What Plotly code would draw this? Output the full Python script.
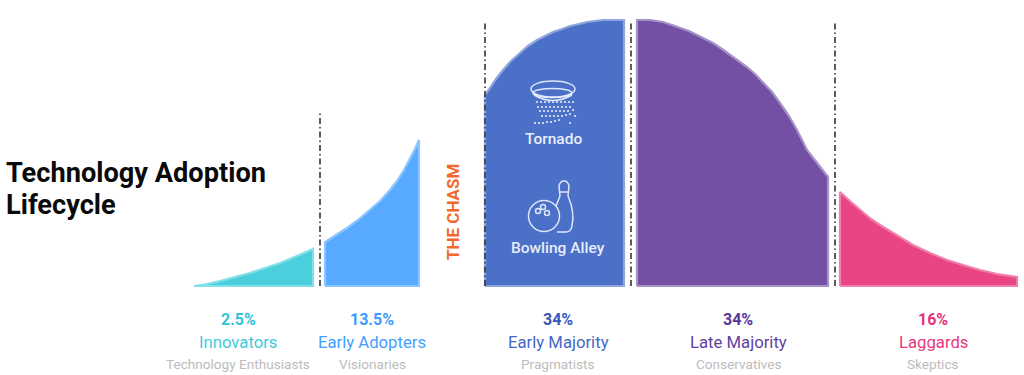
import plotly.graph_objects as go

# Segment names and values
names = ["Innovators", "Early Adopters", "Early Majority", "Late Majority", "Laggards"]
shares = ["2.5%", "13.5%", "34%", "34%", "16%"]
subtitles = ["Technology Enthusiasts", "Visionaries", "Pragmatists", "Conservatives", "Skeptics"]
label_x = [238, 372, 558, 738, 933]

# Curve outlines: x on a 0-1024 scale, height above the baseline
innovators_x = [194, 207, 220, 235, 250, 265, 280, 297, 313]
innovators_h = [0, 2, 5, 9, 13, 18, 23, 30, 37]
adopters_x = [325, 336, 347, 358, 370, 380, 390, 397, 404, 410, 415, 419]
adopters_h = [44, 51, 58, 66, 76, 85, 96, 105, 116, 127, 137, 146]
early_majority_x = [485, 490, 496, 503, 511, 520, 528, 537, 545, 553, 562, 570, 579, 587, 595, 603, 613, 624]
early_majority_h = [191, 198, 207, 216, 225, 233, 240, 246, 250, 254, 257, 260, 262, 264, 265, 266, 266, 266]
late_majority_x = [637, 650, 663, 672, 680, 689, 697, 705, 713, 722, 730, 738, 747, 755, 763, 772, 780, 789, 797, 802, 807, 814, 821, 828]
late_majority_h = [266, 266, 264, 261, 258, 255, 251, 247, 243, 237, 231, 225, 219, 212, 204, 194, 183, 170, 156, 146, 136, 127, 118, 109]
laggards_x = [840, 851, 863, 871, 880, 897, 913, 930, 947, 963, 980, 997, 1017]
laggards_h = [94, 84, 74, 67, 61, 51, 41, 33, 26, 21, 16, 12, 9]

fills = ["#4bcfdd", "#57aaff", "#4b70c8", "#7350a3", "#e94584"]
edges = ["#84e0e8", "#8cc6ff", "#8ea6dd", "#a592c8", "#f080ab"]
share_colors = ["#2fc5d8", "#3d9bff", "#3557bb", "#57389a", "#e5347b"]
name_colors = ["#3fcbdc", "#3fa0ff", "#4468c4", "#5f3f9f", "#e8387e"]

# Dash-dot dividers: x and top height
divider_x = [320, 485, 631, 835]
divider_top = [173, 264, 264, 264]

curves = [
    (innovators_x, innovators_h),
    (adopters_x, adopters_h),
    (early_majority_x, early_majority_h),
    (late_majority_x, late_majority_h),
    (laggards_x, laggards_h),
]

BASE = 286  # pixel row of the baseline, used to set the y-axis range
fig = go.Figure()

for (xs, hs), fill, edge in zip(curves, fills, edges):
    fig.add_trace(go.Scatter(
        x=[xs[0]] + xs + [xs[-1], xs[0]],
        y=[0] + hs + [0, 0],
        mode="lines", fill="toself", fillcolor=fill,
        line=dict(color=edge, width=2.2),
        hoverinfo="skip", showlegend=False,
    ))

for dx, top in zip(divider_x, divider_top):
    fig.add_trace(go.Scatter(
        x=[dx, dx], y=[0, top], mode="lines",
        line=dict(color="#333333", width=1.6, dash="6px,3px,1.5px,3px"),
        hoverinfo="skip", showlegend=False,
    ))

# Tornado icon dots
tornado_x = [537, 541, 545, 549, 553, 557, 561, 565, 569, 573,
             538, 542, 546, 550, 554, 558, 562, 566, 570,
             540, 544, 548, 552, 556, 560, 564, 568, 573,
             542, 546, 550, 554, 558, 562, 566, 570, 575,
             535, 539, 543, 547, 551, 555, 559, 570]
tornado_h = [184, 184, 184, 184, 184, 184, 184, 184, 184, 184,
             179, 179, 179, 179, 179, 179, 179, 179, 179,
             175, 175, 175, 175, 175, 175, 175, 175, 176,
             170, 170, 170, 170, 170, 170, 171, 172, 170,
             163, 163, 163, 164, 164, 165, 166, 163]
fig.add_trace(go.Scatter(
    x=tornado_x, y=tornado_h, mode="markers",
    marker=dict(color="rgba(255,255,255,0.85)", size=2.2),
    hoverinfo="skip", showlegend=False,
))

icon = dict(color="rgba(235,240,255,0.92)", width=1.5)
def ring(cx, cy, rx, ry):
    fig.add_shape(type="circle", x0=cx - rx, x1=cx + rx,
                  y0=BASE - cy - ry, y1=BASE - cy + ry, line=icon)

ring(553, 89, 22, 8)
ring(552.5, 93, 19.5, 4.5)
ring(544, 216, 15.5, 15.5)
ring(538, 211, 2.5, 2.5)
ring(543, 207, 2.5, 2.5)
ring(547, 213, 2.5, 2.5)
h = lambda p: BASE - p
fig.add_shape(type="path", line=icon, path=f"M 534,{h(95)} Q 553,{h(106)} 572,{h(95)}")
fig.add_shape(type="path", line=icon, path=(
    f"M 560,{h(196)} L 559,{h(186)} Q 560,{h(181)} 564,{h(181)} Q 568,{h(181)} 569,{h(186)} "
    f"L 568,{h(196)} Q 575,{h(212)} 572,{h(226)} Q 571,{h(232)} 566,{h(232)} "
    f"L 557,{h(232)} M 560,{h(196)} Q 558,{h(201)} 556,{h(206)} "
    f"M 560,{h(192)} L 568,{h(192)}"
))

font = "Roboto, sans-serif"
def label(x, py, text, size, color, angle=0, anchor="center", weight=400):
    fig.add_annotation(x=x, y=BASE - py, text=text, showarrow=False, xanchor=anchor,
                       yanchor="middle", textangle=angle,
                       font=dict(family=font, size=size, color=color, weight=weight))

for lx, share, name, sub, sc, nc in zip(label_x, shares, names, subtitles, share_colors, name_colors):
    label(lx, 319, share, 16, sc, weight=700)
    label(lx, 342, name, 16.7, nc)
    label(lx, 364, sub, 13.6, "#bcbcbc")

label(4, 172.5, "Technology Adoption", 27.2, "#0a0a0a", anchor="left", weight=700)
label(4, 205, "Lifecycle", 27.2, "#0a0a0a", anchor="left", weight=700)
label(453, 212, "THE CHASM", 17, "#f2692e", angle=-90, weight=700)
label(553, 139, "Tornado", 15.5, "#e8edfa", weight=500)
label(558, 248, "Bowling Alley", 15.5, "#e8edfa", weight=500)

fig.update_layout(
    width=1024, height=375, margin=dict(l=0, r=0, t=0, b=0),
    paper_bgcolor="white", plot_bgcolor="white", showlegend=False,
    xaxis=dict(range=[0, 1024], visible=False, fixedrange=True),
    yaxis=dict(range=[BASE - 375, BASE], visible=False, fixedrange=True),
)
fig.write_html("out.html", config={"displayModeBar": False},
               post_script="document.body.style.margin='0';document.body.style.overflow='hidden';")
